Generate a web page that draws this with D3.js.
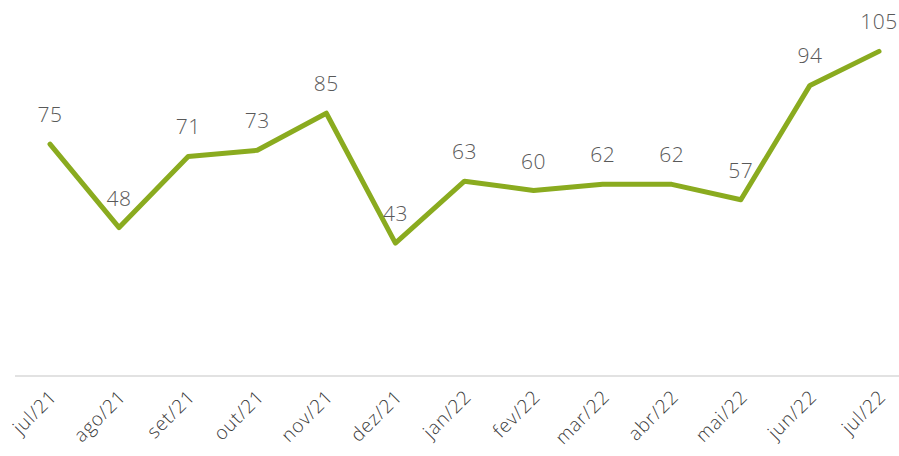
<!DOCTYPE html>
<html>
<head>
<meta charset="utf-8">
<script src="https://cdn.jsdelivr.net/npm/d3@7"></script>
<style>
  body { margin: 0; background: #fff; }
  text { font-family: "Open Sans", Lato, sans-serif; font-weight: 300; }
</style>
</head>
<body>
<div id="chart"></div>
<script>
// months and values
let months = ["jul/21", "ago/21", "set/21", "out/21", "nov/21", "dez/21", "jan/22",
  "fev/22", "mar/22", "abr/22", "mai/22", "jun/22", "jul/22"];
let values = [75, 48, 71, 73, 85, 43, 63, 60, 62, 62, 57, 94, 105];

let svgWidth = 899;
let svgHeight = 456;

let svg = d3.select("#chart").append("svg")
    .attr("width", svgWidth)
    .attr("height", svgHeight);

let xscale = d3.scalePoint()
    .domain(months)
    .range([50, 879]);
let yscale = d3.scaleLinear()
    .domain([0, 120])
    .range([376, 5]);

// baseline
svg.append("line")
    .attr("x1", 15)
    .attr("x2", svgWidth)
    .attr("y1", yscale(0))
    .attr("y2", yscale(0))
    .style("stroke", "#d9d9d9")
    .style("stroke-width", 1.5);

// month labels, rotated
let xaxis = svg.append("g").attr("id", "xAxis");
xaxis.selectAll("text").data(months)
    .enter()
    .append("text")
    .attr("transform", (d) => `translate(${xscale(d) + 8}, ${yscale(0) + 22}) rotate(-45)`)
    .attr("text-anchor", "end")
    .style("font-size", "19px")
    .style("letter-spacing", "0.8px")
    .style("fill", "#3a3a3a")
    .text((d) => d);

let line = d3.line()
    .x((d, i) => xscale(months[i]))
    .y((d) => yscale(d));

svg.append("path")
    .datum(values)
    .attr("d", line)
    .style("fill", "none")
    .style("stroke", "#8aab1f")
    .style("stroke-width", 5)
    .style("stroke-linecap", "round")
    .style("stroke-linejoin", "round");

svg.append("g").attr("id", "labels")
    .selectAll("text").data(values)
    .enter()
    .append("text")
    .attr("x", (d, i) => xscale(months[i]))
    .attr("y", (d) => yscale(d) - 22)
    .attr("text-anchor", "middle")
    .style("font-size", "21px")
    .style("letter-spacing", "0.5px")
    .style("fill", "#595959")
    .text((d) => d);
</script>
</body>
</html>
